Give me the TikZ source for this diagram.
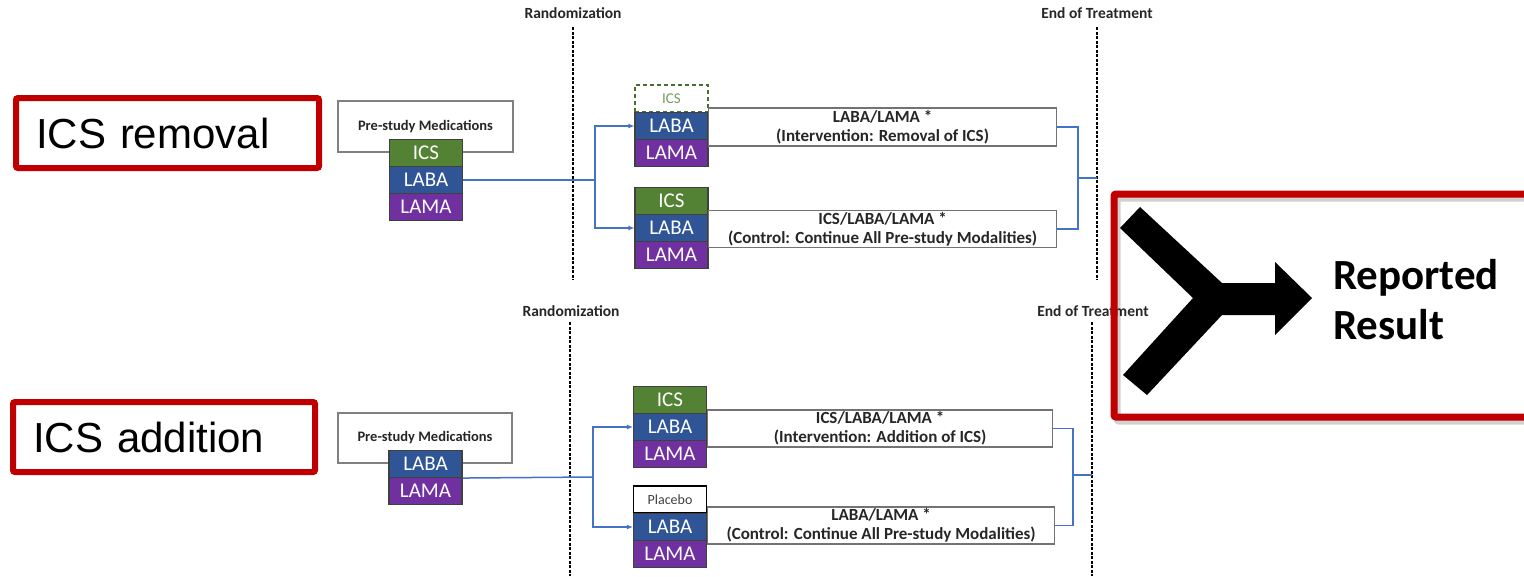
\documentclass[tikz,border=0pt]{standalone}
\usepackage{fontspec}
\setmainfont{Carlito}
\newfontfamily\arialf{Liberation Sans}
\usetikzlibrary{arrows.meta}
\definecolor{cgreen}{HTML}{548235}
\definecolor{cblue}{HTML}{2F5597}
\definecolor{cpurple}{HTML}{7030A0}
\definecolor{cline}{HTML}{4472C4}
\definecolor{cred}{HTML}{C00000}
\begin{document}
\begin{tikzpicture}[x=1pt,y=-1pt,
  med/.style={draw=black!75, line width=1.1pt, minimum width=73pt, minimum height=27pt, inner sep=0pt, text=white, font=\fontsize{21}{23}\selectfont},
  icsbox/.style={med, fill=cgreen},
  ababox/.style={med, fill=cblue},
  amabox/.style={med, fill=cpurple},
  ghostbox/.style={med, draw=cgreen!85!black, dashed, dash pattern=on 4pt off 3pt, fill=white, text=cgreen!80, font=\fontsize{15}{17}\selectfont},
  placebobox/.style={med, draw=black, line width=1.5pt, fill=white, text=black!75, font=\fontsize{14}{16}\selectfont},
  prebox/.style={draw=black!50, line width=1.2pt, fill=white, inner sep=0pt, font=\bfseries\fontsize{14.5}{16}\selectfont, text=black!85},
  armbox/.style={draw=black!55, line width=1.2pt, fill=white, inner sep=0pt, align=center, font=\bfseries\fontsize{17}{19}\selectfont, text=black!85},
  conn/.style={draw=cline, line width=1.5pt},
  connarr/.style={conn, -{Latex[length=6pt,width=5pt]}},
  milestone/.style={draw=black, line width=1.5pt, dash pattern=on 3pt off 1.5pt},
  mlabel/.style={font=\bfseries\fontsize{15.5}{17}\selectfont, text=black!85, inner sep=0pt},
  redbox/.style={draw=cred, line width=6pt, rounded corners=2pt, inner xsep=20pt, inner ysep=0pt, align=left, font=\arialf\fontsize{42}{46}\selectfont},
]
\useasboundingbox (0,0) rectangle (1524,576);
\fill[white] (0,0) rectangle (1524,576);

% ---------- milestones ----------
\node[mlabel] (rand1) at (573,13) {Randomization};
\node[mlabel] (eot1) at (1097,13) {End of Treatment};
\node[mlabel] (rand2) at (571,311) {Randomization};
\node[mlabel] (eot2) at (1093,311) {End of Treatment};
\coordinate (r1t) at (573,27); \coordinate (r1b) at (573,280);
\coordinate (e1t) at (1097,27); \coordinate (e1b) at (1097,280);
\coordinate (r2t) at (570,322); \coordinate (r2b) at (570,576);
\coordinate (e2t) at (1092,322); \coordinate (e2b) at (1092,576);
\draw[milestone] (r1t) -- (r1b);
\draw[milestone] (e1t) -- (e1b);
\draw[milestone] (r2t) -- (r2b);
\draw[milestone] (e2t) -- (e2b);

% ---------- top panel ----------
\node[prebox, minimum width=175pt, minimum height=51pt] (pre1) at (425.5,126.5) {Pre-study Medications};
\node[icsbox] (ics1) at (426,153) {ICS};
\node[ababox] (laba1) at (426,180) {LABA};
\node[amabox] (lama1) at (426,207) {LAMA};

\node[ghostbox] (ics2) at (671.5,98.5) {ICS};
\node[ababox] (laba2) at (671.5,126) {LABA};
\node[amabox] (lama2) at (671.5,153) {LAMA};
\node[armbox, minimum width=348pt, minimum height=38pt, anchor=west] (arm2) at (708,127) {LABA/LAMA *\\(Intervention: Removal of ICS)};

\node[icsbox] (ics3) at (671.5,201) {ICS};
\node[ababox] (laba3) at (671.5,228) {LABA};
\node[amabox] (lama3) at (671.5,255) {LAMA};
\node[armbox, minimum width=348pt, minimum height=37pt, anchor=west] (arm3) at (708,229) {ICS/LABA/LAMA *\\(Control: Continue All Pre-study Modalities)};

\coordinate (b1) at (595,180);
\draw[conn] (laba1.east) -- (b1);
\draw[connarr] (b1) |- (laba2.west);
\draw[connarr] (b1) |- (laba3.west);
\coordinate (m1) at (1078,178);
\coordinate (x1) at (1097,178);
\draw[conn] (arm2.east) -| (m1);
\draw[conn] (arm3.east) -| (m1);
\draw[conn] (m1) -- (x1);

% ---------- bottom panel ----------
\node[prebox, minimum width=174pt, minimum height=50pt] (pre4) at (425,438) {Pre-study Medications};
\node[ababox] (laba4) at (425.5,464) {LABA};
\node[amabox] (lama4) at (425.5,491) {LAMA};

\node[icsbox] (ics5) at (670,400) {ICS};
\node[ababox] (laba5) at (670,427) {LABA};
\node[amabox] (lama5) at (670,454) {LAMA};
\node[armbox, minimum width=345pt, minimum height=37pt, anchor=west] (arm5) at (707,428.5) {ICS/LABA/LAMA *\\(Intervention: Addition of ICS)};

\node[placebobox] (plac6) at (670,499.5) {Placebo};
\node[ababox] (laba6) at (670,527) {LABA};
\node[amabox] (lama6) at (670,554) {LAMA};
\node[armbox, minimum width=347pt, minimum height=37pt, anchor=west] (arm6) at (707,525.5) {LABA/LAMA *\\(Control: Continue All Pre-study Modalities)};

\coordinate (b4) at (593,477);
\draw[conn] (laba4.south east) -- (b4);
\draw[connarr] (b4) |- (laba5.west);
\draw[connarr] (b4) |- (laba6.west);
\coordinate (m4) at (1073,475);
\coordinate (x4) at (1092,475);
\draw[conn] (arm5.east) -| (m4);
\draw[conn] (arm6.east) -| (m4);
\draw[conn] (m4) -- (x4);

% ---------- labels ----------
\node[redbox, minimum width=303pt, minimum height=70pt, text width=263pt] (lab1) at (167.5,133) {ICS removal};
\node[redbox, minimum width=302pt, minimum height=70pt, text width=262pt] (lab2) at (164,437) {ICS addition};

% ---------- result ----------
\draw[black, opacity=0.18, line width=7pt, rounded corners=2pt] (1117,198) rectangle (1533,421);
\draw[cred, line width=7pt, rounded corners=2pt] (1114,194) rectangle (1530,417);
\fill[black] (1120,228) -- (1140,207) -- (1222,283) -- (1275,283) -- (1275,262) -- (1312,298)
  -- (1275,335) -- (1275,315) -- (1222,315) -- (1147,395) -- (1123,375) -- (1193,298) -- cycle;
\node[anchor=west, inner sep=0pt, align=left, font=\bfseries\fontsize{43}{50}\selectfont] (res) at (1333,300) {Reported\\Result};
\end{tikzpicture}
\end{document}
